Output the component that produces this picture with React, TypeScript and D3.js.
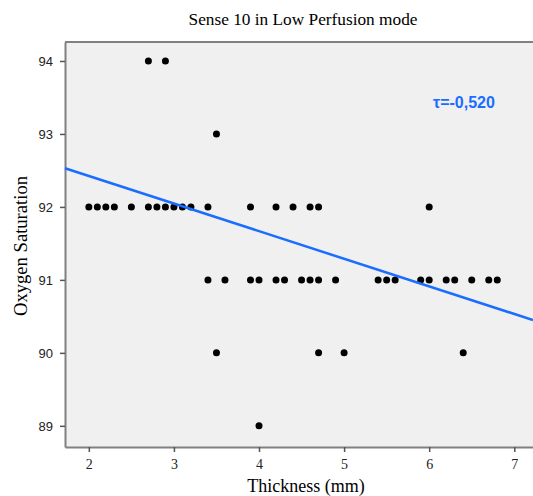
import { useEffect, useRef } from "react";
import * as d3 from "d3";

// thickness (mm) vs oxygen saturation
const thickness = [
  2.7, 2.9,
  3.5,
  2.0, 2.1, 2.2, 2.3, 2.5, 2.7, 2.8, 2.9, 3.0, 3.1, 3.2, 3.4, 3.9, 4.2, 4.4, 4.6, 4.7, 6.0,
  3.4, 3.6, 3.9, 4.0, 4.2, 4.3, 4.5, 4.6, 4.7, 4.9, 5.4, 5.5, 5.6, 5.9, 6.0, 6.2, 6.3, 6.5, 6.7, 6.8,
  3.5, 4.7, 5.0, 6.4,
  4.0,
];
const saturation = [
  94, 94,
  93,
  92, 92, 92, 92, 92, 92, 92, 92, 92, 92, 92, 92, 92, 92, 92, 92, 92, 92,
  91, 91, 91, 91, 91, 91, 91, 91, 91, 91, 91, 91, 91, 91, 91, 91, 91, 91, 91, 91,
  90, 90, 90, 90,
  89,
];
const xTicks = [2, 3, 4, 5, 6, 7];
const yTicks = [89, 90, 91, 92, 93, 94];
// fit line ends
const fitX = [1.72, 7.22];
const fitY = [92.53, 90.45];
const tauLabel = "τ=-0,520";

export default function App() {
  const svgRef = useRef<SVGSVGElement>(null);
  const width = 533;
  const height = 496;
  const m = { top: 42, right: 0, bottom: 49, left: 65 };

  useEffect(() => {
    const svg = d3.select(svgRef.current);
    svg.selectAll("*").remove();

    const x = d3.scaleLinear().domain([1.72, 7.22]).range([m.left, width - m.right]);
    const y = d3.scaleLinear().domain([88.71, 94.26]).range([height - m.bottom, m.top]);

    svg
      .append("rect")
      .attr("x", m.left)
      .attr("y", m.top)
      .attr("width", width - m.left - m.right)
      .attr("height", height - m.top - m.bottom)
      .attr("fill", "#f0f0f0");

    svg
      .append("text")
      .attr("x", 303)
      .attr("y", 25)
      .attr("text-anchor", "middle")
      .attr("font-family", "Liberation Serif, Times New Roman, serif")
      .attr("font-size", 17.3)
      .text("Sense 10 in Low Perfusion mode");

    // y axis
    const yAxis = svg
      .append("g")
      .attr("transform", `translate(${m.left},0)`)
      .call(d3.axisLeft(y).tickValues(yTicks).tickSize(5).tickSizeOuter(0).tickFormat(d3.format("d")));
    yAxis.select(".domain").attr("stroke", "#808080").attr("stroke-width", 2);
    yAxis.selectAll(".tick line").attr("stroke", "#555").attr("stroke-width", 1.5);
    yAxis
      .selectAll(".tick text")
      .attr("font-family", "Liberation Sans, Arial, sans-serif")
      .attr("font-size", 13)
      .attr("fill", "#222")
      .attr("x", -12);

    // x axis
    const xAxis = svg
      .append("g")
      .attr("transform", `translate(0,${height - m.bottom})`)
      .call(d3.axisBottom(x).tickValues(xTicks).tickSize(5).tickSizeOuter(0).tickFormat(d3.format("d")));
    xAxis.select(".domain").attr("stroke", "#808080").attr("stroke-width", 2);
    xAxis.selectAll(".tick line").attr("stroke", "#555").attr("stroke-width", 1.5);
    xAxis
      .selectAll(".tick text")
      .attr("font-family", "Liberation Serif, Times New Roman, serif")
      .attr("font-size", 14)
      .attr("fill", "#222")
      .attr("y", 12);

    // top border
    svg
      .append("line")
      .attr("x1", m.left)
      .attr("x2", width)
      .attr("y1", m.top)
      .attr("y2", m.top)
      .attr("stroke", "#808080")
      .attr("stroke-width", 2);

    // points
    svg
      .append("g")
      .selectAll("circle")
      .data(thickness.map((t, i) => [t, saturation[i]]))
      .join("circle")
      .attr("cx", (d) => x(d[0]))
      .attr("cy", (d) => y(d[1]))
      .attr("r", 3.5)
      .attr("fill", "#000");

    // fit line
    svg
      .append("path")
      .datum(fitX.map((v, i) => [v, fitY[i]]))
      .attr("d", d3.line().x((d) => x(d[0])).y((d) => y(d[1])))
      .attr("fill", "none")
      .attr("stroke", "#1a6dff")
      .attr("stroke-width", 2.5);

    svg
      .append("text")
      .attr("x", 433)
      .attr("y", 108)
      .attr("font-family", "Liberation Sans, Arial, sans-serif")
      .attr("font-weight", "bold")
      .attr("font-size", 16)
      .attr("fill", "#1a6dff")
      .text(tauLabel);

    svg
      .append("text")
      .attr("transform", `translate(27,246) rotate(-90)`)
      .attr("text-anchor", "middle")
      .attr("font-family", "Liberation Serif, Times New Roman, serif")
      .attr("font-size", 18.6)
      .text("Oxygen Saturation");

    svg
      .append("text")
      .attr("x", 306)
      .attr("y", 492)
      .attr("text-anchor", "middle")
      .attr("font-family", "Liberation Serif, Times New Roman, serif")
      .attr("font-size", 18)
      .text("Thickness (mm)");
  }, []);

  return (
    <svg
      ref={svgRef}
      width={width}
      height={height}
      style={{ position: "absolute", left: 0, top: 0, background: "#fff" }}
    />
  );
}
